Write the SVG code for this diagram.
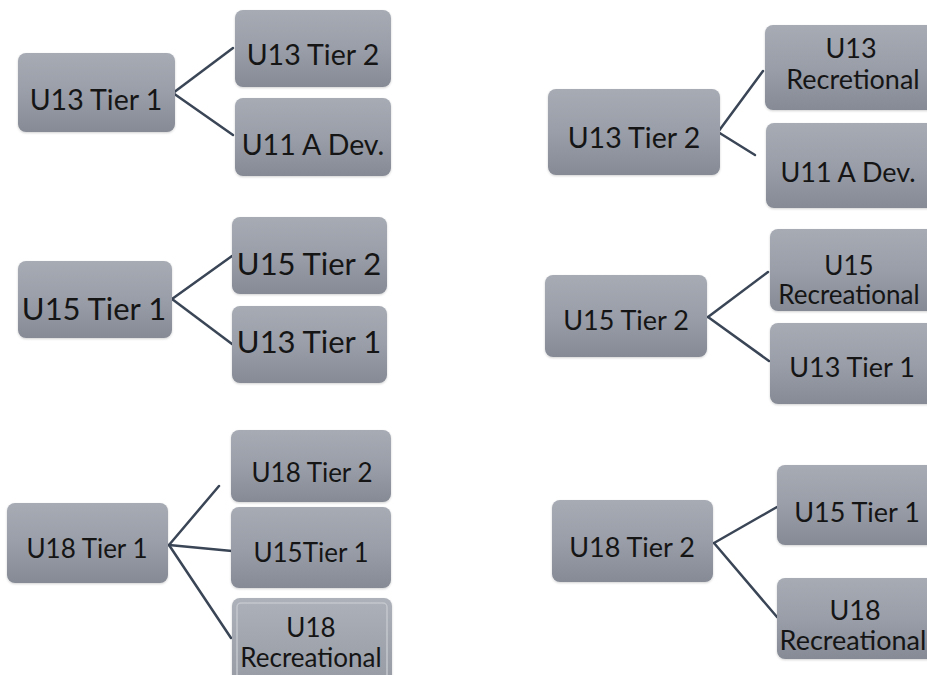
<svg xmlns="http://www.w3.org/2000/svg" width="927" height="675" viewBox="0 0 927 675">
<defs>
<linearGradient id="g" x1="0" y1="0" x2="0" y2="1">
<stop offset="0" stop-color="#A7ABB4"/>
<stop offset="0.5" stop-color="#9A9EA8"/>
<stop offset="1" stop-color="#858A94"/>
</linearGradient>
<linearGradient id="g2" x1="0" y1="0" x2="0" y2="1">
<stop offset="0" stop-color="#ADB1B9"/>
<stop offset="1" stop-color="#959AA3"/>
</linearGradient>
<filter id="sh" x="-5%" y="-5%" width="110%" height="115%">
<feDropShadow dx="0" dy="1" stdDeviation="1.2" flood-color="#000" flood-opacity="0.18"/>
</filter>
</defs>
<style>
.b{fill:url(#g);filter:url(#sh)}
.b2{fill:url(#g2);filter:url(#sh)}
.in{fill:none;stroke:#C4C7CD;stroke-width:1.5}
text{font-family:Lato,"Liberation Sans",sans-serif;fill:#151515;text-anchor:middle}
.s31{font-size:31px}
.s28{font-size:28.5px}
.s27{font-size:27px}
.s26{font-size:26px}
.c line{stroke:#3A4556;stroke-width:2.5;stroke-linecap:round}
</style>
<rect width="927" height="675" fill="#fff"/>
<g class="c" id="connectors">
<line x1="173" y1="93" x2="233" y2="48"/>
<line x1="173" y1="93" x2="233" y2="135"/>
<line x1="172" y1="299" x2="232" y2="256"/>
<line x1="172" y1="299" x2="232" y2="344"/>
<line x1="169" y1="545" x2="219" y2="486"/>
<line x1="169" y1="545" x2="232" y2="551"/>
<line x1="169" y1="545" x2="231" y2="638"/>
<line x1="718" y1="132" x2="763" y2="71"/>
<line x1="718" y1="132" x2="755" y2="155"/>
<line x1="708" y1="317" x2="768" y2="272"/>
<line x1="708" y1="317" x2="769" y2="361"/>
<line x1="714" y1="543" x2="777" y2="507"/>
<line x1="714" y1="543" x2="777" y2="617"/>
</g>
<g id="a1"><rect class="b" x="18" y="53" width="157" height="79" rx="8"/><text class="s28" x="96" y="110">U13 Tier 1</text></g>
<g id="a2"><rect class="b" x="235" y="10" width="156" height="77" rx="8"/><text class="s28" x="313" y="65">U13 Tier 2</text></g>
<g id="a3"><rect class="b" x="235" y="98" width="156" height="78" rx="8"/><text class="s28" x="313" y="155">U11 A Dev.</text></g>
<g id="b1"><rect class="b" x="18" y="261" width="154" height="77" rx="8"/><text class="s31" x="94" y="320">U15 Tier 1</text></g>
<g id="b2"><rect class="b" x="232" y="217" width="155" height="77" rx="8"/><text class="s31" x="309" y="275">U15 Tier 2</text></g>
<g id="b3"><rect class="b" x="232" y="306" width="155" height="77" rx="8"/><text class="s31" x="309" y="353">U13 Tier 1</text></g>
<g id="c1"><rect class="b" x="7" y="503" width="161" height="80" rx="8"/><text class="s26" x="87" y="558">U18 Tier 1</text></g>
<g id="c2"><rect class="b" x="231" y="430" width="160" height="72" rx="8"/><text class="s26" x="312" y="482">U18 Tier 2</text></g>
<g id="c3"><rect class="b" x="231" y="507" width="160" height="81" rx="8"/><text class="s26" x="311" y="562">U15Tier 1</text></g>
<g id="c4"><rect class="b2" x="232" y="598" width="160" height="90" rx="8"/><rect class="in" x="237" y="603" width="150" height="80" rx="4"/><text class="s26" x="311" y="637">U18</text><text class="s26" x="311" y="667">Recreational</text></g>
<g id="d1"><rect class="b" x="548" y="89" width="172" height="86" rx="8"/><text class="s28" x="634" y="148">U13 Tier 2</text></g>
<g id="d2"><rect class="b" x="765" y="25" width="172" height="85" rx="8"/><text class="s27" x="851" y="58">U13</text><text class="s27" x="853" y="89">Recretional</text></g>
<g id="d3"><rect class="b" x="766" y="123" width="172" height="85" rx="8"/><text class="s27" x="848" y="182">U11 A Dev.</text></g>
<g id="e1"><rect class="b" x="545" y="275" width="162" height="82" rx="8"/><text class="s27" x="626" y="330">U15 Tier 2</text></g>
<g id="e2"><rect class="b" x="770" y="229" width="172" height="82" rx="8"/><text class="s26" x="849" y="275">U15</text><text class="s26" x="849" y="304">Recreational</text></g>
<g id="e3"><rect class="b" x="770" y="323" width="172" height="81" rx="8"/><text class="s27" x="852" y="377">U13 Tier 1</text></g>
<g id="f1"><rect class="b" x="552" y="500" width="161" height="82" rx="8"/><text class="s27" x="632" y="557">U18 Tier 2</text></g>
<g id="f2"><rect class="b" x="777" y="465" width="172" height="80" rx="8"/><text class="s27" x="857" y="522">U15 Tier 1</text></g>
<g id="f3"><rect class="b" x="777" y="578" width="172" height="81" rx="8"/><text class="s27" x="855" y="620">U18</text><text class="s27" x="853" y="650">Recreational</text></g>
</svg>
